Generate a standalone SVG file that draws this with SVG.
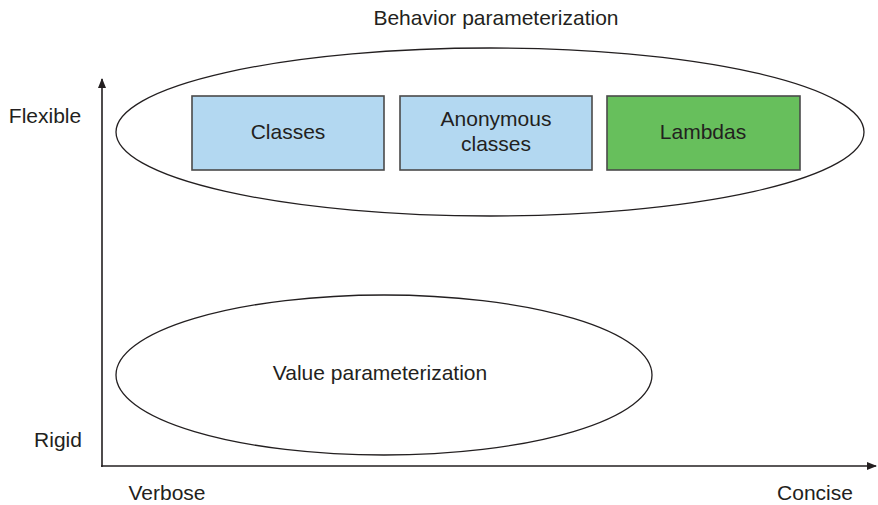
<svg xmlns="http://www.w3.org/2000/svg" width="878" height="505" viewBox="0 0 878 505">
<defs>
<marker id="arr" markerWidth="10" markerHeight="8" refX="9" refY="4" orient="auto" markerUnits="userSpaceOnUse">
<path d="M0,0 L10,4 L0,8 Z" fill="#231f20"/>
</marker>
<style>
text{font-family:"Liberation Sans",Arial,sans-serif;font-size:21px;fill:#231f20;text-anchor:middle}
.ell{fill:none;stroke:#231f20;stroke-width:1.3}
.box{stroke:#4a4a4a;stroke-width:1.6}
.axis{stroke:#231f20;stroke-width:1.6;fill:none}
</style>
</defs>
<rect width="878" height="505" fill="#fff"/>
<g id="connectors">
<line class="axis" x1="102" y1="467" x2="102" y2="79" marker-end="url(#arr)"/>
<line class="axis" x1="101" y1="466" x2="876" y2="466" marker-end="url(#arr)"/>
</g>
<g id="behavior">
<ellipse class="ell" cx="490" cy="132" rx="374" ry="84"/>
<text x="496" y="25">Behavior parameterization</text>
</g>
<g id="value">
<ellipse class="ell" cx="384" cy="375" rx="268" ry="80"/>
<text x="380" y="380">Value parameterization</text>
</g>
<g id="classes">
<rect class="box" x="192" y="96" width="192" height="74" fill="#b3d8f1"/>
<text x="288" y="139">Classes</text>
</g>
<g id="anonymous">
<rect class="box" x="400" y="96" width="192" height="74" fill="#b3d8f1"/>
<text x="496" y="126">Anonymous</text>
<text x="496" y="151">classes</text>
</g>
<g id="lambdas">
<rect class="box" x="607" y="96" width="193" height="74" fill="#67bf5c"/>
<text x="703" y="139">Lambdas</text>
</g>
<g id="labels">
<text x="45" y="123">Flexible</text>
<text x="58" y="447">Rigid</text>
<text x="167" y="500">Verbose</text>
<text x="815" y="500">Concise</text>
</g>
</svg>
